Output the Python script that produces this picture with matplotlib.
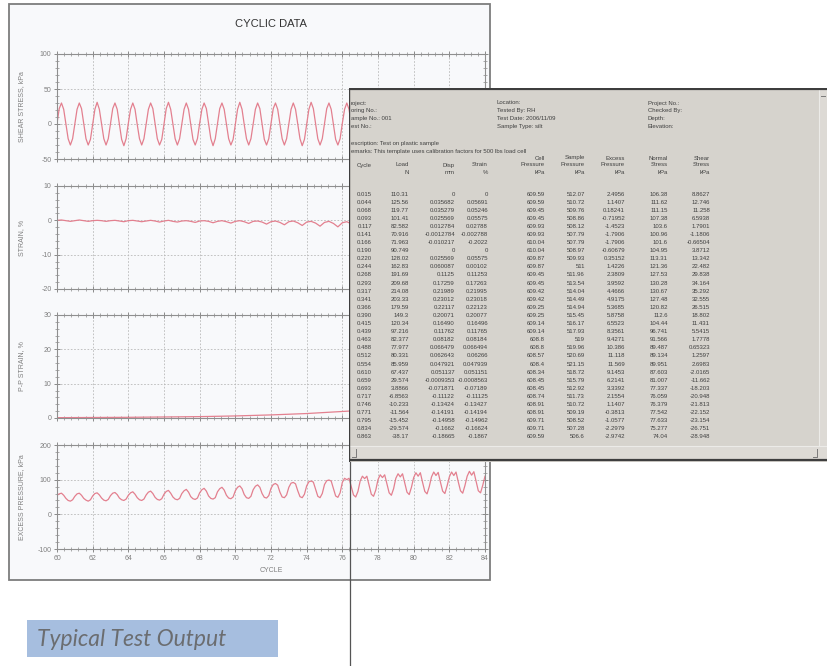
import numpy as np
import matplotlib
matplotlib.use("Agg")
import matplotlib.pyplot as plt
import matplotlib.patches as mpatches
from matplotlib.lines import Line2D
from matplotlib.ticker import MultipleLocator

plt.rcParams["axes.unicode_minus"] = False

# ── chart data ───────────────────────────────────────────────────────
# shear stress, kPa : 8 samples per cycle
shear_rows = [
    [1, 22, 30, 21, 0, -21, -30, -21], [0, 21, 30, 22, 1, -21, -30, -22],
    [0, 21, 31, 21, 0, -21, -30, -21], [0, 22, 30, 21, 0, -22, -31, -21],
    [1, 21, 30, 21, -1, -21, -30, -21], [0, 21, 30, 22, 0, -21, -30, -22],
    [0, 22, 31, 21, 0, -21, -30, -21], [0, 21, 30, 21, 0, -22, -30, -21],
    [1, 21, 30, 22, 0, -21, -31, -21], [0, 22, 30, 21, 0, -21, -30, -22],
    [0, 21, 31, 21, -1, -21, -30, -21], [0, 21, 30, 22, 0, -22, -30, -21],
    [1, 22, 30, 21, 0, -21, -30, -21], [0, 21, 30, 21, 0, -21, -31, -22],
    [0, 21, 31, 22, 0, -21, -30, -21], [0, 22, 30, 21, -1, -22, -30, -21],
    [1, 21, 30, 21, 0, -21, -30, -21], [0, 21, 30, 22, 0, -21, -31, -22],
    [0, 22, 31, 21, 0, -21, -30, -21], [0, 21, 30, 21, 0, -22, -30, -21],
    [1, 21, 30, 22, -1, -21, -30, -21], [0, 22, 30, 21, 0, -21, -31, -22],
    [0, 21, 31, 21, 0, -21, -30, -21], [0, 21, 30, 22, 0, -22, -30, -21],
]
shear_end = 0

# strain, % : 4 samples per cycle
strain_rows = [
    [0.0, 0.1, -0.1, -0.3], [-0.1, 0.1, -0.1, -0.3], [-0.1, 0.0, -0.1, -0.3],
    [-0.1, 0.0, -0.2, -0.4], [-0.1, 0.0, -0.2, -0.4], [-0.2, 0.0, -0.2, -0.5],
    [-0.2, 0.0, -0.3, -0.5], [-0.2, -0.1, -0.3, -0.6], [-0.2, -0.1, -0.3, -0.7],
    [-0.3, -0.1, -0.4, -0.8], [-0.3, -0.1, -0.4, -0.9], [-0.3, -0.2, -0.5, -1.1],
    [-0.4, -0.2, -0.6, -1.3], [-0.4, -0.2, -0.7, -1.5], [-0.5, -0.3, -0.8, -1.7],
    [-0.6, -0.3, -0.9, -1.9], [-0.7, -0.4, -1.0, -2.1], [-0.7, -0.4, -1.1, -2.2],
    [-0.8, -0.5, -1.1, -2.3], [-0.8, -0.5, -1.2, -2.4], [-0.9, -0.5, -1.2, -2.5],
    [-0.9, -0.6, -1.3, -2.5], [-1.0, -0.6, -1.3, -2.6], [-1.0, -0.6, -1.4, -2.6],
]
strain_end = -1.0

# peak-to-peak strain, %
pp_cycle = [60, 62, 64, 66, 68, 70, 72, 74, 76, 78, 80, 82, 84]
pp_strain = [0.1, 0.15, 0.2, 0.3, 0.4, 0.6, 0.9, 1.3, 1.9, 2.5, 3.0, 3.4, 3.8]

# excess pressure, kPa : 8 samples per cycle
excess_rows = [
    [55, 59, 61, 55, 46, 40, 38, 42], [52, 59, 61, 55, 46, 41, 38, 42],
    [53, 60, 62, 56, 47, 41, 39, 43], [54, 61, 63, 57, 47, 42, 40, 44],
    [55, 62, 65, 58, 48, 42, 40, 44], [56, 64, 67, 60, 49, 43, 41, 45],
    [58, 66, 69, 61, 50, 44, 42, 46], [60, 68, 72, 64, 51, 45, 43, 47],
    [62, 71, 75, 67, 53, 46, 44, 48], [65, 74, 78, 70, 55, 47, 45, 50],
    [68, 78, 82, 74, 57, 48, 46, 52], [71, 81, 85, 78, 60, 49, 47, 54],
    [75, 86, 89, 84, 64, 50, 48, 56], [78, 90, 92, 88, 68, 51, 48, 58],
    [82, 94, 96, 93, 72, 52, 48, 60], [86, 97, 99, 96, 75, 53, 49, 62],
    [92, 104, 100, 104, 80, 56, 50, 66], [96, 110, 103, 110, 84, 58, 52, 70],
    [100, 114, 106, 114, 88, 62, 55, 74], [104, 117, 108, 117, 90, 64, 57, 78],
    [106, 120, 110, 120, 92, 66, 59, 80], [108, 122, 112, 121, 93, 67, 60, 82],
    [108, 122, 112, 122, 94, 68, 61, 83], [110, 124, 113, 123, 95, 68, 62, 84],
]
excess_end = 110

shear_stress = np.append(np.ravel(shear_rows), shear_end)
strain = np.append(np.ravel(strain_rows), strain_end)
excess_pressure = np.append(np.ravel(excess_rows), excess_end)
cycle_8 = 60 + np.arange(len(shear_stress)) / 8.0
cycle_4 = 60 + np.arange(len(strain)) / 4.0

# ── table window data ────────────────────────────────────────────────
info_left = ["roject:", "oring No.:", "ample No.: 001", "est No.:"]
info_mid = ["Location:", "Tested By: RH", "Test Date: 2006/11/09", "Sample Type: silt"]
info_right = ["Project No.:", "Checked By:", "Depth:", "Elevation:"]
desc_lines = ["escription: Test on plastic sample",
              "emarks: This template uses calibration factors for 500 lbs load cell"]
col_heads = [["Cycle"], ["Load", "N"], ["Disp", "mm"], ["Strain", "%"],
             ["Cell", "Pressure", "kPa"], ["Sample", "Pressure", "kPa"],
             ["Excess", "Pressure", "kPa"], ["Normal", "Stress", "kPa"],
             ["Shear", "Stress", "kPa"]]

tab_cycle = ["0.015", "0.044", "0.068", "0.093", "0.117", "0.141", "0.166", "0.190",
             "0.220", "0.244", "0.268", "0.293", "0.317", "0.341", "0.366", "0.390",
             "0.415", "0.439", "0.463", "0.488", "0.512", "0.554", "0.610", "0.659",
             "0.693", "0.717", "0.746", "0.771", "0.795", "0.834", "0.863"]
tab_load = ["110.31", "125.56", "119.77", "101.41", "82.582", "70.916", "71.963", "90.749",
            "128.02", "162.83", "191.69", "209.68", "214.08", "203.33", "179.59", "149.3",
            "120.34", "97.216", "82.377", "77.977", "80.331", "85.959", "67.437", "29.574",
            "3.8866", "-6.8563", "-10.233", "-11.564", "-15.452", "-29.574", "-38.17"]
tab_disp = ["0", "0.035682", "0.035279", "0.025569", "0.012784", "-0.0012784", "-0.010217",
            "0", "0.025569", "0.060087", "0.1125", "0.17259", "0.21989", "0.23012",
            "0.22117", "0.20071", "0.16490", "0.11762", "0.08182", "0.066479", "0.062643",
            "0.047921", "0.051137", "-0.0009353", "-0.071871", "-0.11122", "-0.13424",
            "-0.14191", "-0.14958", "-0.1662", "-0.18665"]
tab_strain = ["0", "0.05691", "0.05246", "0.05575", "0.02788", "-0.002788", "-0.2022", "0",
              "0.05575", "0.00102", "0.11253", "0.17263", "0.21995", "0.23018", "0.22123",
              "0.20077", "0.16496", "0.11765", "0.08184", "0.066494", "0.06266", "0.047939",
              "0.051151", "-0.0008563", "-0.07189", "-0.11125", "-0.13427", "-0.14194",
              "-0.14962", "-0.16624", "-0.1867"]
tab_cell = ["609.59", "609.59", "609.45", "609.45", "609.93", "609.93", "610.04", "610.04",
            "609.87", "609.87", "609.45", "609.45", "609.42", "609.42", "609.25", "609.25",
            "609.14", "609.14", "608.8", "608.8", "608.57", "608.4", "608.34", "608.45",
            "608.45", "608.74", "608.91", "608.91", "609.71", "609.71", "609.59"]
tab_sample = ["512.07", "510.72", "509.76", "508.86", "508.12", "507.79", "507.79", "508.97",
              "509.93", "511", "511.96", "513.54", "514.04", "514.49", "514.94", "515.45",
              "516.17", "517.93", "519", "519.96", "520.69", "521.15", "518.72", "515.79",
              "512.92", "511.73", "510.72", "509.19", "508.52", "507.28", "506.6"]
tab_excess = ["2.4956", "1.1407", "0.18241", "-0.71952", "-1.4523", "-1.7906", "-1.7906",
              "-0.60679", "0.35152", "1.4226", "2.3809", "3.9592", "4.4666", "4.9175",
              "5.3685", "5.8758", "6.5523", "8.3561", "9.4271", "10.386", "11.118", "11.569",
              "9.1453", "6.2141", "3.3392", "2.1554", "1.1407", "-0.3813", "-1.0577",
              "-2.2979", "-2.9742"]
tab_normal = ["106.38", "111.62", "111.15", "107.38", "103.6", "100.96", "101.6", "104.95",
              "113.31", "121.36", "127.53", "130.28", "130.67", "127.48", "120.82", "112.6",
              "104.44", "96.741", "91.566", "89.487", "89.134", "89.951", "87.603", "81.007",
              "77.337", "76.059", "76.379", "77.542", "77.633", "75.277", "74.04"]
tab_shear = ["8.8627", "12.746", "11.258", "6.5938", "1.7901", "-1.1806", "-0.66504", "3.8712",
             "13.342", "22.482", "29.838", "34.164", "35.292", "32.555", "26.515", "18.802",
             "11.431", "5.5415", "1.7778", "0.65323", "1.2597", "2.6983", "-2.0165", "-11.662",
             "-18.203", "-20.948", "-21.813", "-22.152", "-23.154", "-26.751", "-28.948"]
tab_columns = [tab_cycle, tab_load, tab_disp, tab_strain, tab_cell, tab_sample,
               tab_excess, tab_normal, tab_shear]

# ── figure, pixel helper ─────────────────────────────────────────────
W, H = 827, 666
fig = plt.figure(figsize=(W / 100, H / 100), dpi=100)
fig.patch.set_facecolor("white")


def px_axes(x0, y0, x1, y1, **kw):
    return fig.add_axes([x0 / W, 1 - y1 / H, (x1 - x0) / W, (y1 - y0) / H], **kw)


def fx(x):
    return x / W


def fy(y):
    return 1 - y / H


FONT = ["Liberation Sans", "DejaVu Sans"]
LINE_C = "#e3808f"
GRID_C = "#b9b9b9"
SPINE_C = "#8f8f8f"
TICK_C = "#8a8a8a"

# chart frame
fig.add_artist(mpatches.Rectangle((fx(9), fy(580)), fx(481), 576 / H, transform=fig.transFigure,
                                  facecolor="#f8f9fb", edgecolor="#7d7d7d", lw=1.3, zorder=-5))
fig.text(fx(271), fy(24), "CYCLIC DATA", ha="center", va="center", fontsize=8,
         color="#333333", family=FONT)

# ── four stacked panels ─────────────────────────────────────────────
panels = [
    (54, 159, (-50, 100), 50, 10, "SHEAR STRESS, kPa", cycle_8, shear_stress),
    (186, 289, (-20, 10), 10, 2, "STRAIN, %", cycle_4, strain),
    (315, 418, (0, 30), 10, 2, "P-P STRAIN, %", pp_cycle, pp_strain),
    (445, 549, (-100, 200), 100, 20, "EXCESS PRESSURE, kPa", cycle_8, excess_pressure),
]
for i, (y0, y1, ylim, ymaj, ymin, ylab, xs, ys) in enumerate(panels):
    ax = px_axes(57, y0, 485, y1)
    ax.set_facecolor("none")
    ax.plot(xs, ys, color=LINE_C, lw=0.9)
    ax.set_xlim(60, 84)
    ax.set_ylim(*ylim)
    ax.xaxis.set_major_locator(MultipleLocator(2))
    ax.xaxis.set_minor_locator(MultipleLocator(0.4))
    ax.yaxis.set_major_locator(MultipleLocator(ymaj))
    ax.yaxis.set_minor_locator(MultipleLocator(ymin))
    ax.grid(True, which="major", color=GRID_C, ls=(0, (2, 2)), lw=0.6)
    for sp in ax.spines.values():
        sp.set_color(SPINE_C)
        sp.set_linewidth(0.8)
    ax.tick_params(which="both", direction="inout", color=TICK_C, top=True, right=True,
                   labelsize=5, labelcolor="#7f7f7f", pad=2)
    ax.tick_params(which="major", length=4, width=0.7)
    ax.tick_params(which="minor", length=2.5, width=0.5)
    ax.tick_params(axis="x", labelbottom=(i == 3))
    for lab in ax.get_yticklabels() + ax.get_xticklabels():
        lab.set_family(FONT)
    ax.set_ylabel(ylab, fontsize=5, color="#7f7f7f", family=FONT)
    ax.yaxis.set_label_coords((25 - 57) / 428, 0.5)
    if i == 3:
        ax.set_xlabel("CYCLE", fontsize=5, color="#7f7f7f", family=FONT, labelpad=4)

# callout line
fig.add_artist(Line2D([fx(350), fx(350)], [fy(460), fy(665)], color="#555555", lw=0.9, zorder=5))

# caption
fig.add_artist(mpatches.Rectangle((fx(27), fy(657)), fx(251), 37 / H, transform=fig.transFigure,
                                  facecolor="#a6bedf", edgecolor="none", zorder=2))
fig.text(fx(37), fy(639), "Typical Test Output", ha="left", va="center", fontsize=16.5,
         style="italic", color="#6b6d70", family=["Lato", "DejaVu Sans"], zorder=3)

# ── table window (pixel coordinates inside) ─────────────────────────
tab = px_axes(349, 88, 827, 462)
tab.set_zorder(10)
tab.set_xlim(349, 827)
tab.set_ylim(462, 88)
tab.axis("off")
tab.add_patch(mpatches.Rectangle((349, 88), 478, 374, facecolor="#d6d3cd", edgecolor="none"))
tab.add_patch(mpatches.Rectangle((349, 446), 478, 13, facecolor="#dddad5", edgecolor="none"))
tab.add_patch(mpatches.Rectangle((819, 88), 8, 358, facecolor="#dddad5", edgecolor="none"))
tab.plot([349, 827], [446, 446], color="#ecebe8", lw=0.8)
tab.plot([819, 819], [88, 446], color="#ecebe8", lw=0.8)
tab.plot([349, 827], [89, 89], color="#3e3e3e", lw=1.6)
tab.plot([349.5, 349.5], [88, 462], color="#3e3e3e", lw=1.0)
tab.plot([349, 827], [460.5, 460.5], color="#3e3e3e", lw=1.6)
# scroll button marks
tab.plot([352, 356, 356], [457, 457, 449], color="#7a7a7a", lw=0.7)
tab.plot([813, 817, 817], [457, 457, 449], color="#7a7a7a", lw=0.7)
tab.plot([821, 825], [96, 96], color="#7a7a7a", lw=0.7)

TXT = dict(fontsize=4.3, color="#404040", family=FONT, va="center")
for k in range(4):
    y = 103 + 7.7 * k
    tab.text(351, y, info_left[k], ha="left", **TXT)
    tab.text(497, y, info_mid[k], ha="left", **TXT)
    tab.text(648, y, info_right[k], ha="left", **TXT)
tab.text(351, 144, desc_lines[0], ha="left", **TXT)
tab.text(351, 151, desc_lines[1], ha="left", **TXT)

col_right = [372, 409, 455, 488, 545, 585, 625, 668, 710]
head_rows = [158, 165, 172]
for xr, head in zip(col_right, col_heads):
    start = 1 if len(head) < 3 else 0
    for j, word in enumerate(head):
        tab.text(xr, head_rows[start + j], word, ha="right", **TXT)

row_y0, row_dy = 194, 8.1
for xr, col in zip(col_right, tab_columns):
    for r, val in enumerate(col):
        tab.text(xr, row_y0 + row_dy * r, val, ha="right", **TXT)

fig.savefig("out.png", dpi=100)
